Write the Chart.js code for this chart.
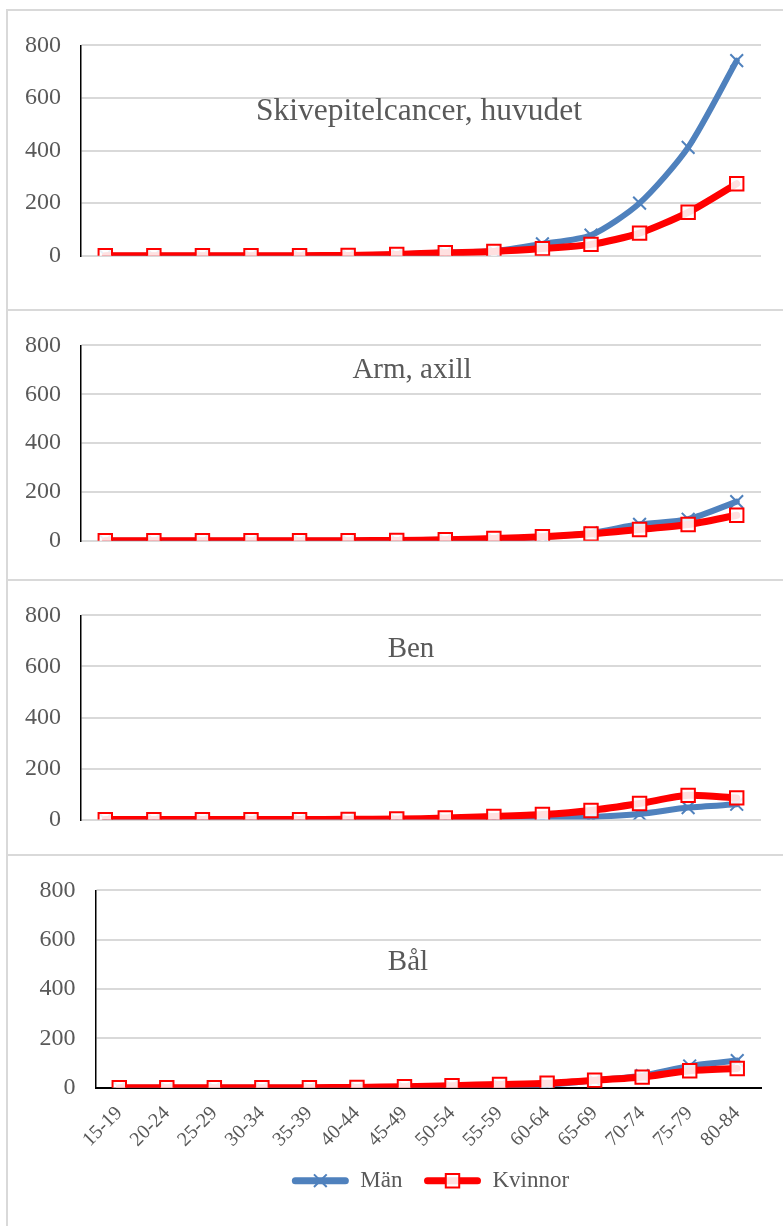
<!DOCTYPE html>
<html lang="sv">
<head>
<meta charset="utf-8">
<title>Skivepitelcancer per åldersgrupp</title>
<script src="https://cdn.jsdelivr.net/npm/chart.js@4.4.1/dist/chart.umd.min.js"></script>
<style>
    html, body { margin: 0; padding: 0; background: #fff; }
    body { width: 783px; height: 1226px; overflow: hidden; position: relative; }
    .panel {
        position: absolute;
        left: 6px;
        width: 845px;
        border-top: 2px solid #d9d9d9;
        border-left: 2px solid #d9d9d9;
    }
    .panel canvas { display: block; }
</style>
</head>
<body>
<div class="panel" style="top:9px;height:298px"><canvas id="huvudet" width="845" height="298"></canvas></div>
<div class="panel" style="top:309px;height:268px"><canvas id="arm" width="845" height="268"></canvas></div>
<div class="panel" style="top:579px;height:273px"><canvas id="ben" width="845" height="273"></canvas></div>
<div class="panel" style="top:854px;height:370px"><canvas id="bal" width="845" height="370"></canvas></div>
<script>
// age groups on the x axis
const ageGroups = ['15-19', '20-24', '25-29', '30-34', '35-39', '40-44', '45-49',
    '50-54', '55-59', '60-64', '65-69', '70-74', '75-79', '80-84'];
const seriesNames = ['Män', 'Kvinnor'];
const yMin = 0;
const yMax = 800;
const yStep = 200;

// values
const huvudetMan     = [0, 0, 0, 0, 0, 1, 5, 12, 18, 45, 78, 200, 412, 742];
const huvudetKvinnor = [0, 0, 0, 0, 0, 1, 5, 11, 16, 27, 43, 86, 165, 274];
const armMan         = [0, 0, 0, 0, 0, 0, 1, 4, 8, 15, 32, 67, 88, 160];
const armKvinnor     = [0, 0, 0, 0, 0, 0, 1, 4, 9, 16, 28, 46, 66, 104];
const benMan         = [0, 0, 0, 0, 0, 0, 0, 1, 3, 5, 10, 22, 47, 60];
const benKvinnor     = [0, 0, 0, 0, 0, 1, 2, 6, 12, 20, 36, 63, 95, 85];
const balMan         = [0, 0, 0, 0, 0, 0, 2, 5, 9, 12, 30, 49, 88, 110];
const balKvinnor     = [0, 0, 0, 0, 0, 1, 4, 8, 13, 18, 30, 43, 69, 78];

const FONT = '"Liberation Serif", "Times New Roman", serif';
const TEXT_GREY = '#595959';
const GRID_GREY = '#d9d9d9';
const MAN_BLUE = '#4F81BD';
const KVINNA_RED = '#FF0000';

// title written inside the plot area, y given as a value on the y scale
const panelTitlePlugin = {
    id: 'panelTitle',
    afterDraw(chart, args, opts) {
        if (!opts || !opts.text) return;
        const ctx = chart.ctx;
        const y = chart.scales.y.getPixelForValue(opts.value);
        ctx.save();
        ctx.font = opts.size + 'px ' + FONT;
        ctx.fillStyle = TEXT_GREY;
        ctx.textAlign = 'center';
        ctx.textBaseline = 'alphabetic';
        ctx.fillText(opts.text, opts.x, y);
        ctx.restore();
    }
};

// Excel style legend: a line with the marker on top of it
const legendMarkerPlugin = {
    id: 'legendMarker',
    afterDraw(chart) {
        const legend = chart.legend;
        if (!legend || !legend.options.display || !legend.legendHitBoxes) return;
        const ctx = chart.ctx;
        const boxWidth = legend.options.labels.boxWidth;
        legend.legendItems.forEach((item, i) => {
            const box = legend.legendHitBoxes[i];
            const ds = chart.data.datasets[item.datasetIndex];
            ctx.save();
            ctx.strokeStyle = ds.pointBorderColor;
            ctx.fillStyle = ds.pointBackgroundColor;
            ctx.lineWidth = ds.pointBorderWidth;
            Chart.helpers.drawPoint(ctx, {
                pointStyle: ds.pointStyle,
                rotation: 0,
                radius: ds.pointRadius,
                borderWidth: ds.pointBorderWidth
            }, box.left + boxWidth / 2, box.top + box.height / 2);
            ctx.restore();
        });
    }
};

function makeDatasets(manValues, kvinnorValues) {
    return [{
        label: seriesNames[0],
        data: manValues,
        borderColor: MAN_BLUE,
        backgroundColor: MAN_BLUE,
        borderWidth: 6,
        borderCapStyle: 'round',
        borderJoinStyle: 'round',
        tension: 0.25,
        pointStyle: 'crossRot',
        pointRadius: 9,
        pointBorderWidth: 2,
        pointBorderColor: MAN_BLUE,
        pointBackgroundColor: MAN_BLUE,
        order: 1
    }, {
        label: seriesNames[1],
        data: kvinnorValues,
        borderColor: KVINNA_RED,
        backgroundColor: KVINNA_RED,
        borderWidth: 7,
        borderCapStyle: 'round',
        borderJoinStyle: 'round',
        tension: 0.25,
        pointStyle: 'rect',
        pointRadius: 9.5,
        pointBorderWidth: 2,
        pointBorderColor: KVINNA_RED,
        pointBackgroundColor: 'rgba(255,255,255,0.88)',
        order: 0
    }];
}

function renderPanel(canvasId, title, manValues, kvinnorValues, layout) {
    try {
        const canvas = document.getElementById(canvasId);
        if (!canvas) return;
        const ctx = canvas.getContext('2d');

        const cfg = {
            type: 'line',
            data: {
                labels: ageGroups,
                datasets: makeDatasets(manValues, kvinnorValues)
            },
            plugins: [panelTitlePlugin, legendMarkerPlugin],
            options: {
                responsive: false,
                animation: false,
                events: [],
                layout: { padding: { top: layout.padTop, bottom: layout.padBottom, left: 0, right: 0 } },
                plugins: {
                    tooltip: { enabled: false },
                    panelTitle: { text: title, x: layout.titleX, value: layout.titleValue, size: layout.titleSize },
                    legend: {
                        display: layout.showX,
                        position: 'bottom',
                        labels: {
                            color: TEXT_GREY,
                            font: { family: FONT, size: 23 },
                            boxWidth: 57,
                            boxHeight: 7,
                            padding: 21.5,
                            sort: (a, b) => a.datasetIndex - b.datasetIndex,
                            generateLabels(chart) {
                                const items = Chart.defaults.plugins.legend.labels.generateLabels(chart);
                                items.forEach(it => {
                                    it.lineWidth = 0;
                                    it.borderRadius = 3.5;
                                    it.fontColor = TEXT_GREY;
                                });
                                return items;
                            }
                        }
                    }
                },
                scales: {
                    x: {
                        type: 'category',
                        offset: true,
                        display: layout.showX,
                        grid: { display: false },
                        border: { display: true, color: '#000', width: 2 },
                        ticks: {
                            color: TEXT_GREY,
                            font: { family: FONT, size: 20 },
                            autoSkip: false,
                            maxRotation: 45,
                            minRotation: 45,
                            padding: 6
                        },
                        afterFit(scale) { if (layout.xHeight) scale.height = layout.xHeight; }
                    },
                    y: {
                        min: yMin,
                        max: yMax,
                        grid: { color: GRID_GREY, lineWidth: 2, drawTicks: false },
                        border: { display: true, color: '#000', width: 1.5 },
                        ticks: {
                            stepSize: yStep,
                            color: TEXT_GREY,
                            font: { family: FONT, size: 24 },
                            padding: 20
                        },
                        afterFit(scale) { scale.width = layout.axisWidth; }
                    },
                    // empty axis that keeps the right part of the panel free
                    yRight: {
                        type: 'linear',
                        position: 'right',
                        display: true,
                        grid: { display: false },
                        border: { display: false },
                        ticks: { display: false },
                        afterFit(scale) { scale.width = 92; }
                    }
                }
            }
        };
        return new Chart(ctx, cfg);
    } catch (e) {
        console.error('renderPanel error', canvasId, e);
    }
}

renderPanel('huvudet', 'Skivepitelcancer, huvudet', huvudetMan, huvudetKvinnor,
    { padTop: 26.7, padBottom: 53.3, axisWidth: 73, showX: false, titleX: 411, titleValue: 516, titleSize: 31.5 });
renderPanel('arm', 'Arm, axill', armMan, armKvinnor,
    { padTop: 31.7, padBottom: 38.3, axisWidth: 73, showX: false, titleX: 404, titleValue: 665, titleSize: 29 });
renderPanel('ben', 'Ben', benMan, benKvinnor,
    { padTop: 18.3, padBottom: 27.3, axisWidth: 73, showX: false, titleX: 403, titleValue: 636, titleSize: 29 });
renderPanel('bal', 'Bål', balMan, balKvinnor,
    { padTop: 26.3, padBottom: 23.8, axisWidth: 87.5, showX: true, xHeight: 60, titleX: 400, titleValue: 478, titleSize: 29 });
</script>
</body>
</html>
